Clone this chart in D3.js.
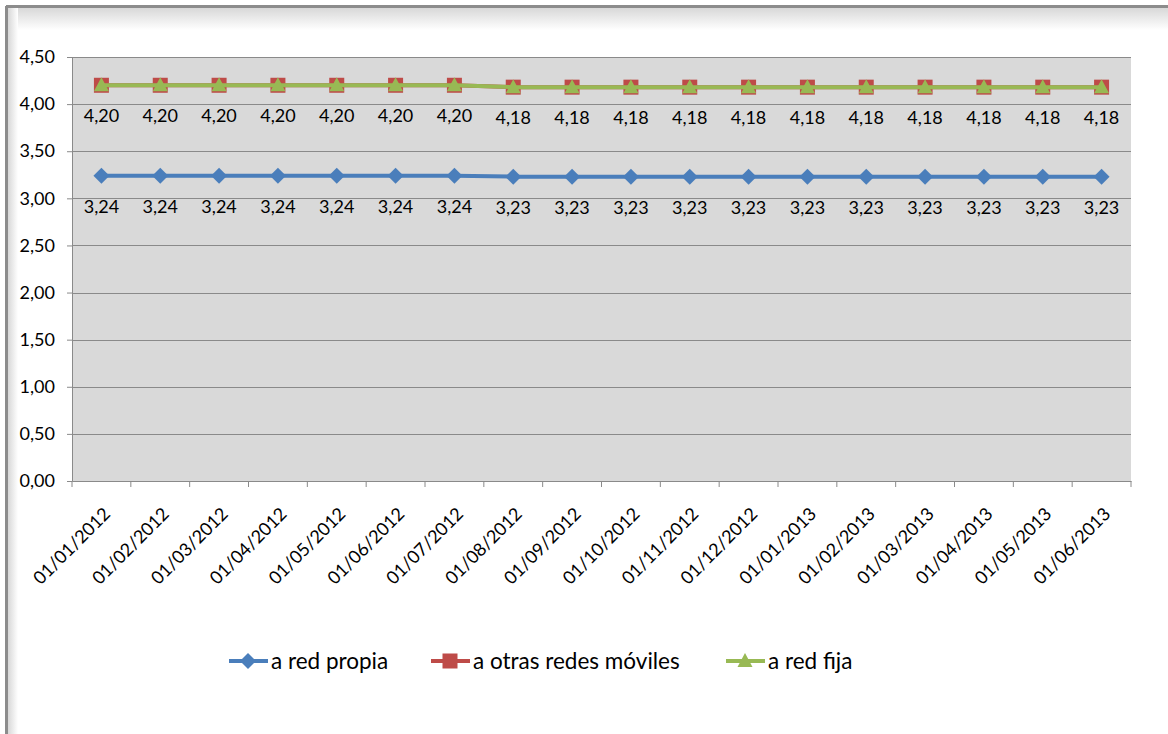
<!DOCTYPE html>
<html><head><meta charset="utf-8">
<script src="https://cdn.jsdelivr.net/npm/d3@7"></script>
<style>body{margin:0;background:#fff;}svg{display:block;font-family:Lato,"Open Sans",sans-serif;}</style>
</head><body>
<svg id="c" width="1168" height="734"></svg>
<script>
const categories = ["01/01/2012","01/02/2012","01/03/2012","01/04/2012","01/05/2012","01/06/2012","01/07/2012","01/08/2012","01/09/2012","01/10/2012","01/11/2012","01/12/2012","01/01/2013","01/02/2013","01/03/2013","01/04/2013","01/05/2013","01/06/2013"];
const redPropia = [3.24,3.24,3.24,3.24,3.24,3.24,3.24,3.23,3.23,3.23,3.23,3.23,3.23,3.23,3.23,3.23,3.23,3.23];
const otrasMoviles = [4.20,4.20,4.20,4.20,4.20,4.20,4.20,4.18,4.18,4.18,4.18,4.18,4.18,4.18,4.18,4.18,4.18,4.18];
const redFija = [4.20,4.20,4.20,4.20,4.20,4.20,4.20,4.18,4.18,4.18,4.18,4.18,4.18,4.18,4.18,4.18,4.18,4.18];
const yTicks = [0,0.5,1,1.5,2,2.5,3,3.5,4,4.5];
const seriesNames = ["a red propia","a otras redes móviles","a red fija"];

const svg = d3.select("#c");
const defs = svg.append("defs");
const g1 = defs.append("linearGradient").attr("id","shT").attr("x1",0).attr("y1",0).attr("x2",0).attr("y2",1);
g1.append("stop").attr("offset","0").attr("stop-color","#d8d8d8");
g1.append("stop").attr("offset","1").attr("stop-color","#ffffff");
const g2 = defs.append("linearGradient").attr("id","shL").attr("x1",0).attr("y1",0).attr("x2",1).attr("y2",0);
g2.append("stop").attr("offset","0").attr("stop-color","#d8d8d8");
g2.append("stop").attr("offset","1").attr("stop-color","#ffffff");

// frame
svg.append("rect").attr("x",8).attr("y",8).attr("width",1160).attr("height",22).attr("fill","url(#shT)");
svg.append("rect").attr("x",8).attr("y",8).attr("width",10).attr("height",726).attr("fill","url(#shL)");
svg.append("line").attr("x1",6).attr("x2",1168).attr("y1",6.5).attr("y2",6.5).attr("stroke","#8c8c8c").attr("stroke-width",3);
svg.append("line").attr("x1",6.5).attr("x2",6.5).attr("y1",6).attr("y2",734).attr("stroke","#8c8c8c").attr("stroke-width",3);

const L=72, R=1131, T=57, B=481;
const x = d3.scaleBand().domain(categories).range([L,R]);
const y = d3.scaleLinear().domain([0,4.5]).range([B,T]);
const fmt = v => d3.format(".2f")(v).replace(".",",");

svg.append("rect").attr("x",L).attr("y",T).attr("width",R-L).attr("height",B-T).attr("fill","#d9d9d9");

// grid
svg.append("g").selectAll("line").data(yTicks.filter(d=>d>0)).join("line")
  .attr("x1",L).attr("x2",R).attr("y1",d=>Math.round(y(d))+0.5).attr("y2",d=>Math.round(y(d))+0.5)
  .attr("stroke","#8a8a8a").attr("stroke-width",1);

// y axis
const ya = svg.append("g").attr("transform",`translate(${L},0)`)
  .call(d3.axisLeft(y).tickValues(yTicks).tickFormat(fmt).tickSize(5).tickPadding(12));
ya.select(".domain").attr("stroke","#8a8a8a");
ya.selectAll(".tick line").attr("stroke","#8a8a8a");
ya.selectAll("text").attr("font-size",18).attr("fill","#000").attr("font-family","Lato,'Open Sans',sans-serif");

// x axis
const xa = svg.append("g").attr("transform",`translate(0,${B})`)
  .call(d3.axisBottom(x).tickSize(6).tickSizeOuter(0));
xa.select(".domain").attr("stroke","#8a8a8a");
xa.selectAll(".tick line").attr("stroke","#8a8a8a").attr("transform",d=>`translate(${x.bandwidth()/2},0)`);
xa.selectAll(".tick").each(function(d,i){
  if(i===0){ d3.select(this).append("line").attr("stroke","#8a8a8a").attr("y2",6).attr("transform",`translate(${-x.bandwidth()/2},0)`); }
});
xa.selectAll("text").attr("font-size",18).attr("fill","#000").attr("font-family","Lato,'Open Sans',sans-serif")
  .attr("text-anchor","end").attr("dy",null).attr("y",0)
  .attr("transform","translate(10,34) rotate(-45)");

const cx = d => x(d)+x.bandwidth()/2;
const line = d3.line().x((d,i)=>cx(categories[i])).y(d=>y(d));
const colors = ["#4a7ebb","#be4b48","#98b954"];
const data = [redPropia, otrasMoviles, redFija];

function marker(sel, k, px, py){
  if(k===0){
    sel.append("path").attr("d",`M${px},${py-8}L${px+8},${py}L${px},${py+8}L${px-8},${py}Z`).attr("fill",colors[0]);
  } else if(k===1){
    sel.append("rect").attr("x",px-7.5).attr("y",py-7.5).attr("width",15).attr("height",15).attr("fill",colors[1]);
  } else {
    sel.append("path").attr("d",`M${px},${py-8}L${px+7.5},${py+6}L${px-7.5},${py+6}Z`).attr("fill",colors[2]);
  }
}

data.forEach((s,k)=>{
  const gg = svg.append("g");
  gg.append("path").datum(s).attr("d",line).attr("fill","none").attr("stroke",colors[k]).attr("stroke-width",4);
  s.forEach((v,i)=>marker(gg,k,cx(categories[i]),y(v)));
});

// data labels (series 0 and 2)
[0,2].forEach(k=>{
  svg.append("g").selectAll("text").data(data[k]).join("text")
    .attr("x",(d,i)=>cx(categories[i])).attr("y",d=>y(d)+37)
    .attr("text-anchor","middle").attr("font-size",18).attr("fill","#000")
    .text(fmt);
});

// legend
const legX = [229, 431, 726];
const ly = 661;
seriesNames.forEach((n,k)=>{
  const lg = svg.append("g");
  lg.append("line").attr("x1",legX[k]).attr("x2",legX[k]+39).attr("y1",ly).attr("y2",ly).attr("stroke",colors[k]).attr("stroke-width",4);
  marker(lg,k,legX[k]+19,ly);
  lg.append("text").attr("x",legX[k]+42).attr("y",ly+8).attr("font-size",22.5).attr("fill","#000").text(n);
});
</script>
</body></html>
